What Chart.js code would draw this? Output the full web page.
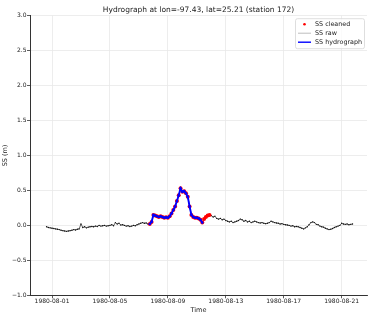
<!DOCTYPE html>
<html>
<head>
<meta charset="utf-8">
<script src="https://cdn.jsdelivr.net/npm/chart.js@4.4.1/dist/chart.umd.min.js"></script>
<style>
  html, body { margin: 0; padding: 0; background: #fff; }
  #wrap { width: 371px; height: 326px; }
</style>
</head>
<body>
<div id="wrap"><canvas id="chart" width="371" height="326"></canvas></div>
<script>
// hydrograph, station 172
// time axis in days since 1980-08-01 00:00, samples every 3 h
const startDay = -0.375;
const stepDays = 0.125;

// SS raw (m), one row per day
const ssRaw = [
  -0.02, -0.03, -0.035,                                   // 07-31 15h..21h
  -0.04, -0.045, -0.05, -0.055, -0.06, -0.07, -0.075, -0.08,   // 08-01
  -0.085, -0.08, -0.075, -0.07, -0.06, -0.065, -0.055, -0.05,  // 08-02
  0.02, -0.03, -0.02, -0.035, -0.025, -0.02, -0.015, -0.02,    // 08-03
  -0.01, -0.015, 0.0, -0.01, -0.005, 0.0, -0.01, -0.005,       // 08-04
  0.0, 0.01, -0.005, 0.04, 0.02, 0.03, 0.005, 0.01,            // 08-05
  0.0, -0.01, -0.005, -0.015, -0.01, 0.0, -0.005, 0.01,        // 08-06
  0.02, 0.03, 0.04, 0.03, 0.035, 0.02, 0.02, 0.05,             // 08-07
  0.15, 0.14, 0.13, 0.12, 0.13, 0.12, 0.11, 0.115,             // 08-08
  0.11, 0.13, 0.17, 0.22, 0.27, 0.35, 0.43, 0.53,              // 08-09
  0.48, 0.49, 0.46, 0.41, 0.27, 0.15, 0.12, 0.11,              // 08-10
  0.11, 0.10, 0.08, 0.04, 0.09, 0.12, 0.14, 0.15,              // 08-11
  0.14, 0.12, 0.13, 0.10, 0.09, 0.10, 0.08, 0.09,              // 08-12
  0.07, 0.06, 0.05, 0.06, 0.04, 0.05, 0.06, 0.07,              // 08-13
  0.09, 0.08, 0.06, 0.07, 0.05, 0.06, 0.04, 0.05,              // 08-14
  0.06, 0.05, 0.04, 0.035, 0.04, 0.03, 0.025, 0.03,            // 08-15
  0.04, 0.06, 0.05, 0.04, 0.035, 0.03, 0.02, 0.025,            // 08-16
  0.015, 0.01, 0.005, 0.0, -0.01, -0.005, -0.02, -0.015,       // 08-17
  -0.02, -0.03, -0.04, -0.05, -0.035, -0.02, 0.01, 0.04,       // 08-18
  0.05, 0.04, 0.015, 0.01, -0.01, -0.02, -0.025, -0.04,        // 08-19
  -0.05, -0.06, -0.055, -0.045, -0.03, -0.02, -0.01, 0.0,      // 08-20
  0.03, 0.02, 0.015, 0.02, 0.01, 0.015, 0.02                   // 08-21
];

// event windows (days)
const cleanedWindow = [6.75, 10.875];
const hydroWindow = [6.75, 10.375];

const tickDays = [0, 4, 8, 12, 16, 20];
const tickLabels = ["1980-08-01", "1980-08-05", "1980-08-09", "1980-08-13", "1980-08-17", "1980-08-21"];

const FONT = "'DejaVu Sans', sans-serif";

const rawPts = ssRaw.map((v, i) => ({ x: startDay + i * stepDays, y: v }));
const inWin = (w) => (p) => p.x >= w[0] - 1e-6 && p.x <= w[1] + 1e-6;
const cleanedPts = rawPts.filter(inWin(cleanedWindow));
const hydroPts = rawPts.filter(inWin(hydroWindow));

// matplotlib-ish legend box in the upper right
const legendBox = {
  id: "legendBox",
  afterDraw(chart) {
    const { ctx, chartArea } = chart;
    const w = 69, h = 30;
    const x = chartArea.right - w - 3, y = chartArea.top + 2.5;
    ctx.save();
    ctx.fillStyle = "rgba(255,255,255,0.8)";
    ctx.strokeStyle = "#d6d6d6";
    ctx.lineWidth = 0.8;
    ctx.beginPath();
    ctx.roundRect(x + 0.5, y + 0.5, w, h, 2);
    ctx.fill();
    ctx.stroke();

    const rows = [y + 6, y + 15, y + 24];
    // SS cleaned
    ctx.fillStyle = "red";
    ctx.beginPath();
    ctx.arc(x + 9.5, rows[0], 1.3, 0, Math.PI * 2);
    ctx.fill();
    // SS raw
    ctx.strokeStyle = "#bdbdbd";
    ctx.lineWidth = 1;
    ctx.beginPath();
    ctx.moveTo(x + 3, rows[1]); ctx.lineTo(x + 16, rows[1]);
    ctx.stroke();
    // SS hydrograph
    ctx.strokeStyle = "blue";
    ctx.lineWidth = 1.4;
    ctx.beginPath();
    ctx.moveTo(x + 3, rows[2]); ctx.lineTo(x + 16, rows[2]);
    ctx.stroke();

    ctx.fillStyle = "#222";
    ctx.font = "6.4px " + FONT;
    ctx.textBaseline = "middle";
    ctx.fillText("SS cleaned", x + 20, rows[0]);
    ctx.fillText("SS raw", x + 20, rows[1]);
    ctx.fillText("SS hydrograph", x + 20, rows[2]);
    ctx.restore();
  }
};

new Chart(document.getElementById("chart"), {
  type: "line",
  data: {
    datasets: [
      {
        label: "SS hydrograph",
        data: hydroPts,
        borderColor: "blue",
        backgroundColor: "blue",
        borderWidth: 1.9,
        pointRadius: 1.3,
        pointBorderWidth: 0,
        tension: 0,
        order: 0
      },
      {
        label: "SS cleaned",
        data: cleanedPts,
        showLine: false,
        backgroundColor: "red",
        borderColor: "red",
        pointRadius: 2,
        pointBorderWidth: 0,
        order: 1
      },
      {
        label: "SS raw",
        data: rawPts,
        borderColor: "#3a3a3a",
        backgroundColor: "#111",
        borderWidth: 0.8,
        pointRadius: 0.7,
        pointBorderWidth: 0,
        tension: 0,
        order: 2
      }
    ]
  },
  options: {
    responsive: false,
    animation: false,
    devicePixelRatio: 1,
    layout: { padding: { left: 0, right: 0, top: 0, bottom: 0 } },
    plugins: {
      legend: { display: false },
      tooltip: { enabled: false },
      title: {
        display: true,
        fullSize: false,
        text: "Hydrograph at lon=-97.43, lat=25.21 (station 172)",
        color: "#222",
        font: { family: FONT, size: 7.5, weight: "normal", lineHeight: 1.2 },
        padding: { top: 5.5, bottom: 1.2 }
      }
    },
    scales: {
      x: {
        type: "linear",
        min: -1.52,
        max: 21.75,
        afterFit: (s) => { s.height = 30.7; },
        afterBuildTicks: (s) => { s.ticks = tickDays.map((v) => ({ value: v })); },
        ticks: {
          color: "#222",
          font: { family: FONT, size: 6 },
          padding: 0,
          maxRotation: 0,
          autoSkip: false,
          callback: (v) => tickLabels[tickDays.indexOf(v)] || ""
        },
        grid: { color: "#e8e8e8", lineWidth: 0.8, tickLength: 3, tickColor: "#333", tickWidth: 0.8 },
        border: { display: true, color: "#333", width: 1 },
        title: {
          display: true,
          text: "Time",
          color: "#222",
          font: { family: FONT, size: 6.5 },
          padding: { top: 0, bottom: 11.4 }
        }
      },
      y: {
        min: -1,
        max: 3,
        afterFit: (s) => { s.width = 30; },
        ticks: {
          stepSize: 0.5,
          color: "#222",
          font: { family: FONT, size: 6 },
          padding: 0.5,
          callback: (v) => v.toFixed(1).replace("-", "\u2212")
        },
        grid: { color: "#e8e8e8", lineWidth: 0.8, tickLength: 3, tickColor: "#333", tickWidth: 0.8 },
        border: { display: true, color: "#333", width: 1 },
        title: {
          display: true,
          text: "SS (m)",
          color: "#222",
          font: { family: FONT, size: 6.5 },
          padding: { top: 1.5, bottom: 0 }
        }
      }
    }
  },
  plugins: [legendBox]
});
</script>
</body>
</html>
